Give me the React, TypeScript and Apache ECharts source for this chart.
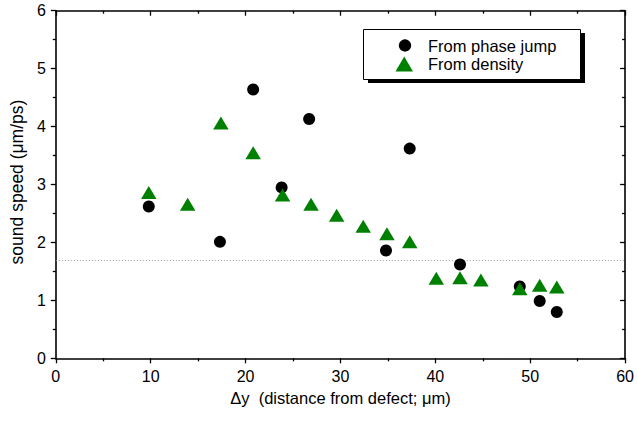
import React, { useEffect, useRef } from "react";
import * as echarts from "echarts";

const phaseJumpX = [9.8, 17.3, 20.8, 23.8, 26.7, 34.8, 37.3, 42.6, 48.9, 51.0, 52.8];
const phaseJumpY = [2.62, 2.01, 4.64, 2.95, 4.13, 1.86, 3.62, 1.62, 1.24, 0.99, 0.8];

const densityX = [9.8, 13.9, 17.4, 20.8, 23.9, 26.9, 29.6, 32.4, 34.9, 37.3, 40.1, 42.6, 44.8, 48.9, 51.0, 52.8];
const densityY = [2.86, 2.66, 4.06, 3.55, 2.82, 2.66, 2.47, 2.28, 2.15, 2.01, 1.38, 1.39, 1.35, 1.2, 1.26, 1.23];

const referenceLevel = 1.7;

const xTicks = { min: 0, max: 60, interval: 10 };
const yTicks = { min: 0, max: 6, interval: 1 };

const legendLabels = ["From phase jump", "From density"];
const xTitle = "\u0394y  (distance from defect; \u03bcm)";
const yTitle = "sound speed (\u03bcm/ps)";

const FONT = "'Liberation Sans', Arial, Helvetica, sans-serif";

export default function App() {
  const ref = useRef<HTMLDivElement>(null);

  useEffect(() => {
    if (!ref.current) return;
    const chart = echarts.init(ref.current, undefined, { renderer: "svg" });

    const axisLine = { show: true, onZero: false, lineStyle: { color: "#000", width: 1.6 } };
    const tickStyle = { color: "#000", width: 1.3 };

    const option: any = {
      animation: false,
      backgroundColor: "#fff",
      textStyle: { fontFamily: FONT },
      grid: { left: 51.7, right: 8.7, top: 10.7, bottom: 65.7, containLabel: false },
      xAxis: [
        {
          type: "value",
          position: "bottom",
          min: xTicks.min,
          max: xTicks.max,
          interval: xTicks.interval,
          axisLine,
          axisTick: { show: true, inside: false, length: 5, lineStyle: tickStyle },
          minorTick: { show: true, splitNumber: 2, length: 3, lineStyle: tickStyle },
          splitLine: { show: false },
          axisLabel: { show: true, color: "#000", fontSize: 16, fontFamily: FONT, margin: 10 },
          name: xTitle,
          nameLocation: "middle",
          nameGap: 30,
          nameTextStyle: { color: "#000", fontSize: 16.5, fontFamily: FONT },
        },
        {
          type: "value",
          position: "top",
          min: xTicks.min,
          max: xTicks.max,
          interval: xTicks.interval,
          axisLine,
          axisTick: { show: true, inside: true, length: 5, lineStyle: tickStyle },
          minorTick: { show: true, splitNumber: 2, length: 3, lineStyle: tickStyle },
          splitLine: { show: false },
          axisLabel: { show: false },
        },
      ],
      yAxis: [
        {
          type: "value",
          position: "left",
          min: yTicks.min,
          max: yTicks.max,
          interval: yTicks.interval,
          axisLine,
          axisTick: { show: true, inside: false, length: 5, lineStyle: tickStyle },
          minorTick: { show: true, splitNumber: 2, length: 3, lineStyle: tickStyle },
          splitLine: { show: false },
          axisLabel: { show: true, color: "#000", fontSize: 16, fontFamily: FONT, margin: 10 },
          name: yTitle,
          nameLocation: "middle",
          nameGap: 27,
          nameTextStyle: { color: "#000", fontSize: 17.5, fontFamily: FONT, padding: [0, 0, 0, 5] },
        },
        {
          type: "value",
          position: "right",
          min: yTicks.min,
          max: yTicks.max,
          interval: yTicks.interval,
          axisLine,
          axisTick: { show: true, inside: true, length: 5, lineStyle: tickStyle },
          minorTick: { show: true, splitNumber: 2, length: 3, lineStyle: tickStyle },
          splitLine: { show: false },
          axisLabel: { show: false },
        },
      ],
      series: [
        {
          name: legendLabels[0],
          type: "scatter",
          xAxisIndex: 0,
          yAxisIndex: 0,
          symbol: "circle",
          symbolSize: 12,
          itemStyle: { color: "#000", opacity: 1 },
          data: phaseJumpX.map((x, i) => [x, phaseJumpY[i]]),
          z: 3,
        },
        {
          name: legendLabels[1],
          type: "scatter",
          xAxisIndex: 0,
          yAxisIndex: 0,
          symbol: "triangle",
          symbolSize: [15.5, 13],
          itemStyle: { color: "#008000", opacity: 1 },
          data: densityX.map((x, i) => [x, densityY[i]]),
          z: 4,
          markLine: {
            silent: true,
            symbol: ["none", "none"],
            label: { show: false },
            lineStyle: { color: "#999", type: [1, 2], width: 1 },
            data: [{ yAxis: referenceLevel }],
            z: 1,
          },
        },
      ],
      graphic: [
        {
          type: "rect",
          shape: { x: 368, y: 33, width: 217, height: 50 },
          style: { fill: "#000" },
          z: 10,
        },
        {
          type: "rect",
          shape: { x: 363.5, y: 29.5, width: 217, height: 50 },
          style: { fill: "#fff", stroke: "#000", lineWidth: 1 },
          z: 11,
        },
        {
          type: "circle",
          shape: { cx: 405, cy: 45.5, r: 6.2 },
          style: { fill: "#000" },
          z: 12,
        },
        {
          type: "polygon",
          shape: { points: [[395.5, 71.5], [413, 71.5], [404.2, 56.5]] },
          style: { fill: "#008000" },
          z: 12,
        },
        {
          type: "text",
          x: 428,
          y: 45.5,
          style: { text: legendLabels[0], fill: "#000", font: `16.5px ${FONT}`, verticalAlign: "middle", align: "left" },
          z: 12,
        },
        {
          type: "text",
          x: 428,
          y: 64,
          style: { text: legendLabels[1], fill: "#000", font: `16.5px ${FONT}`, verticalAlign: "middle", align: "left" },
          z: 12,
        },
      ],
    };

    chart.setOption(option);
    return () => chart.dispose();
  }, []);

  return (
    <div
      ref={ref}
      style={{ position: "fixed", left: 0, top: 0, width: 637, height: 424, background: "#fff" }}
    />
  );
}
